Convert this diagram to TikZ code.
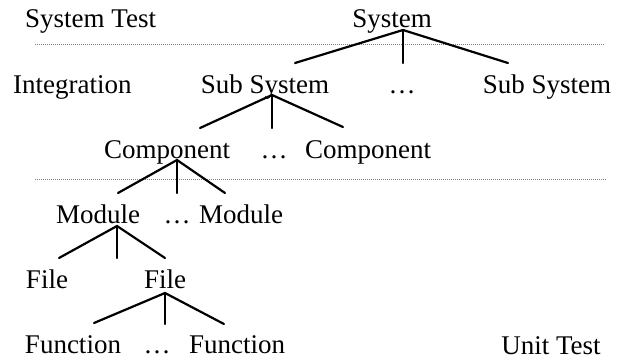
\documentclass[tikz,border=0pt]{standalone}
\usepackage{fontspec}
\setmainfont{Liberation Serif}
\begin{document}
\begin{tikzpicture}[x=1pt,y=-1pt,
  lbl/.style={anchor=base,inner sep=0pt,font=\fontsize{27}{32}\selectfont},
  branch/.style={line width=2.2pt,line cap=round},
  sep/.style={gray,line width=0.8pt,dash pattern=on 1.2pt off 0.8pt}]
\useasboundingbox (0,0) rectangle (623,360);
% level labels
\node[lbl,anchor=base west] (systest) at (25,27) {System Test};
\node[lbl,anchor=base west] (integ) at (13,93) {Integration};
\node[lbl] (unittest) at (551,354) {Unit Test};
% separators
\coordinate (s1a) at (35,44); \coordinate (s1b) at (604,44);
\coordinate (s2a) at (35,179); \coordinate (s2b) at (606,179);
\draw[sep] (s1a) -- (s1b);
\draw[sep] (s2a) -- (s2b);
% nodes
\node[lbl] (sys) at (392,27) {System};
\node[lbl] (sub1) at (265,93) {Sub System};
\node[lbl] (subd) at (402,93) {…};
\node[lbl] (sub2) at (547,93) {Sub System};
\node[lbl] (comp1) at (167,158) {Component};
\node[lbl] (compd) at (274,158) {…};
\node[lbl] (comp2) at (368,158) {Component};
\node[lbl] (mod1) at (98,223) {Module};
\node[lbl] (modd) at (177,223) {…};
\node[lbl] (mod2) at (241,223) {Module};
\node[lbl] (file1) at (47,288) {File};
\node[lbl] (file2) at (165,288) {File};
\node[lbl] (fun1) at (73,353) {Function};
\node[lbl] (fund) at (157,353) {…};
\node[lbl] (fun2) at (237,353) {Function};
% branch coordinates
\coordinate (sysA) at (403,30);
\coordinate (sysL) at (295,63); \coordinate (sysM) at (403,63); \coordinate (sysR) at (508,63);
\coordinate (subA) at (272,95);
\coordinate (subL) at (200,128); \coordinate (subM) at (272,128); \coordinate (subR) at (343,127);
\coordinate (compA) at (177,160);
\coordinate (compL) at (118,193); \coordinate (compM) at (177,193); \coordinate (compR) at (225,193);
\coordinate (modA) at (117,226);
\coordinate (modL) at (59,258); \coordinate (modM) at (117,258); \coordinate (modR) at (165,258);
\coordinate (fileA) at (165,293);
\coordinate (fileL) at (94,323); \coordinate (fileM) at (165,324); \coordinate (fileR) at (224,324);
\foreach \p in {sys,sub,comp,mod,file}{
  \draw[branch] (\p L) -- (\p A) -- (\p R);
  \draw[branch] (\p A) -- (\p M);
}
\end{tikzpicture}
\end{document}
